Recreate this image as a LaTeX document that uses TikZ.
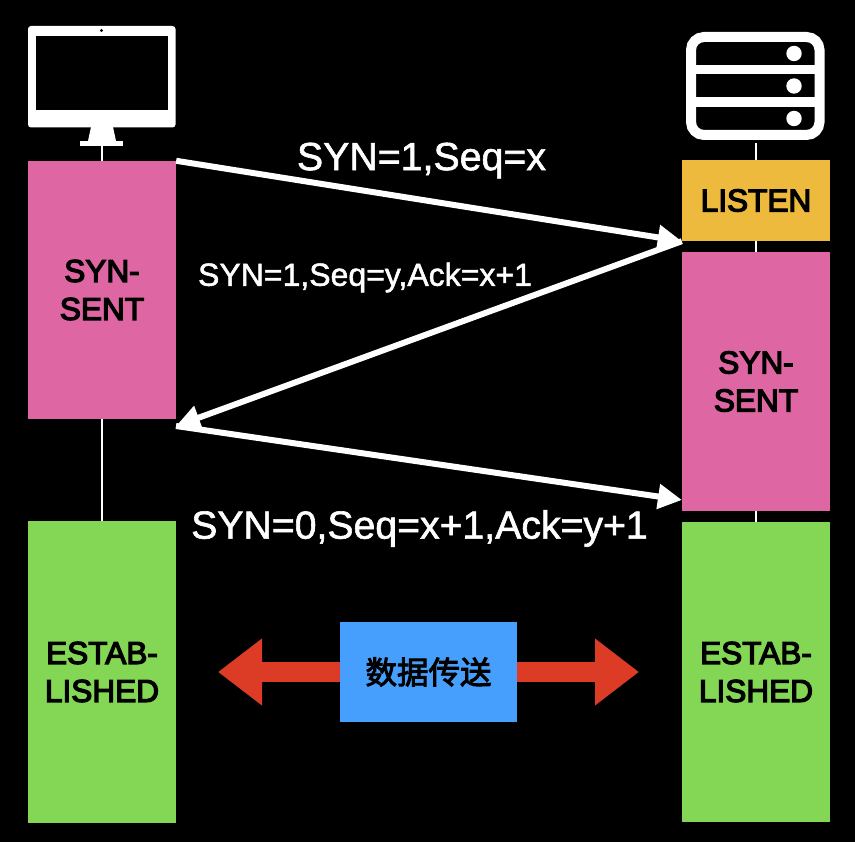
\documentclass[tikz,border=0pt]{standalone}
\usepackage{fontspec}
\setmainfont[FakeBold=1.5]{Liberation Sans}
\newfontfamily\boxfont[FakeBold=4]{Liberation Sans}
\newfontfamily\cjk[FakeBold=3]{Noto Sans CJK SC}
\usetikzlibrary{positioning}
\usetikzlibrary{arrows.meta}
\definecolor{synpink}{RGB}{222,103,163}
\definecolor{listenyellow}{RGB}{238,186,62}
\definecolor{estgreen}{RGB}{132,215,85}
\definecolor{datablue}{RGB}{70,159,252}
\definecolor{datared}{RGB}{220,60,38}
\tikzset{>=Triangle}
\tikzset{stage/.style={fill=#1,text=black,minimum width=148pt,inner sep=0pt,align=center,font=\boxfont\fontsize{31.6}{38}\selectfont}}
\tikzset{ed/.style={text=white,inner sep=0pt}}
\tikzset{life/.style={draw=white,line width=1.4pt}}
\tikzset{msg/.style={draw=white,line width=6pt,-{Triangle[length=24pt,width=24pt]}}}
\tikzset{flow/.style={draw=datared,line width=20pt,-{Triangle[length=44pt,width=64pt]}}}

\begin{document}
\begin{tikzpicture}[x=1pt,y=-1pt]
\fill[black] (0,0) rectangle (855,842);
\useasboundingbox (0,0) rectangle (855,842);

%%% The client column

\node[stage=synpink, minimum height=258pt] (synl) at (102,290) {SYN-\\SENT};
\node[stage=estgreen, minimum height=302pt] (estl) at (102,672) {ESTAB-\\LISHED};
\coordinate (pcfoot) at (102,146);
\coordinate (turn) at (176,426);

\draw[life] (pcfoot) -- (synl);
\draw[life] (synl) -- (estl);

% monitor
\fill[white,rounded corners=3pt] (28,26) rectangle (175.5,127.5);
\fill[black] (36,36) rectangle (167.5,110);
\fill[black] (101.5,30.5) circle (1.7);
\fill[white] (91,127) -- (113,127) -- (116,141) -- (88,141) -- cycle;
\fill[white] (80,141) rectangle (123,146);

%%% The server column

\node[stage=listenyellow, minimum height=81pt] (listen) at (756,200.5) {LISTEN};
\node[stage=synpink, minimum height=259pt] (synr) at (756,381.5) {SYN-\\SENT};
\node[stage=estgreen, minimum height=300pt] (estr) at (756,672) {ESTAB-\\LISHED};
\coordinate (rackfoot) at (756,143);

\draw[life] (rackfoot) -- (listen);
\draw[life] (listen) -- (synr);
\draw[life] (synr) -- (estr);

% rack
\draw[white,line width=10pt,rounded corners=13pt] (691,37) rectangle (819.5,135);
\fill[white] (691,65) rectangle (819.5,74.5);
\fill[white] (691,97.5) rectangle (819.5,107);
\foreach \y in {53.5,86,118.5}
  \fill[white] (794,\y) circle (7.7);

%%% The handshake

\coordinate (ackend) at (682,500);

\draw[msg] (synl.north east) -- (listen.south west);
\draw[msg] (listen.south west) -- (turn);
\draw[msg] (turn) -- (ackend);

\node[ed, font=\fontsize{39.3}{46}\selectfont] (m1) at (421.5,160.5) {SYN=1,Seq=x};
\node[ed, font=\fontsize{32}{38}\selectfont] (m2) at (365,277.5) {SYN=1,Seq=y,Ack=x+1};
\node[ed, font=\fontsize{39.2}{46}\selectfont] (m3) at (419.5,528.5) {SYN=0,Seq=x+1,Ack=y+1};

%%% Data transfer

\node[fill=datablue, minimum width=177pt, minimum height=100pt, inner sep=0pt, font=\cjk\fontsize{31.5}{36}\selectfont] (data) at (428.5,672) {数据传送};
\coordinate (dl) at (218,672);
\coordinate (dr) at (639,672);

\draw[flow] (data.west) -- (dl);
\draw[flow] (data.east) -- (dr);

\end{tikzpicture}
\end{document}
